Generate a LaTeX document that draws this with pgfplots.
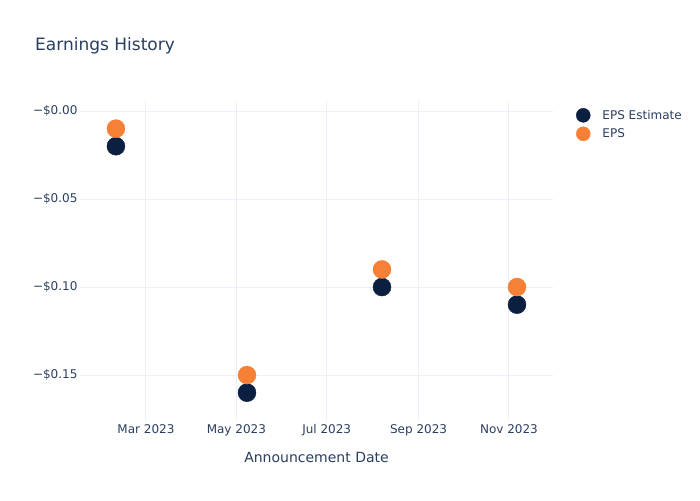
\documentclass[border=0pt]{standalone}
\usepackage{pgfplots}
\pgfplotsset{compat=1.18}
\usepackage{fontspec}
\setmainfont{DejaVu Sans}
\definecolor{txt}{HTML}{2A3F5F}
\definecolor{navy}{HTML}{0B1F41}
\definecolor{orng}{HTML}{F58036}
\definecolor{grd}{HTML}{EBF0F8}
\begin{document}
\begin{tikzpicture}
\path[use as bounding box, fill=white] (0pt,0pt) rectangle (700pt,500pt);
\node[anchor=west, font=\fontsize{17}{20}\selectfont, text=txt, inner sep=0pt] at (35pt,454pt) {Earnings History};
\begin{axis}[at={(80pt,79pt)}, anchor=south west, scale only axis, width=473pt, height=320pt,
  xmin=14.5, xmax=333.7, ymin=-0.1761, ymax=0.0057,
  xtick={59,120,181,243,304},
  xticklabels={Mar 2023,May 2023,Jul 2023,Sep 2023,Nov 2023},
  ytick={0,-0.05,-0.1,-0.15},
  yticklabels={−\$0.00,−\$0.05,−\$0.10,−\$0.15},
  axis line style={draw=none}, major tick length=0pt,
  grid=major, major grid style={draw=grd, line width=1pt},
  ticklabel style={font=\fontsize{12}{14}\selectfont, text=txt},
  yticklabel style={xshift=1pt},
  legend style={at={(1.042,0.985)}, anchor=north west, draw=none, fill=none,
    font=\fontsize{12}{14}\selectfont, text=txt, row sep=4pt},
  legend cell align=left,
  legend image code/.code={\draw[#1, mark size=7pt] plot coordinates {(0pt,0pt)}; \path (-7pt,0pt) (17pt,0pt);},
]
\addplot[only marks, mark=*, mark size=9pt, color=navy, mark options={draw=none, fill=navy}]
  coordinates {(38.75,-0.02) (127.2,-0.16) (218.3,-0.10) (309.4,-0.11)};
\addlegendentry{EPS Estimate}
\addplot[only marks, mark=*, mark size=9pt, color=orng, mark options={draw=none, fill=orng}]
  coordinates {(38.75,-0.01) (127.2,-0.15) (218.3,-0.09) (309.4,-0.10)};
\addlegendentry{EPS}
\end{axis}
\node[font=\fontsize{14}{16}\selectfont, text=txt] at (316.5pt,43pt) {Announcement Date};
\end{tikzpicture}
\end{document}
